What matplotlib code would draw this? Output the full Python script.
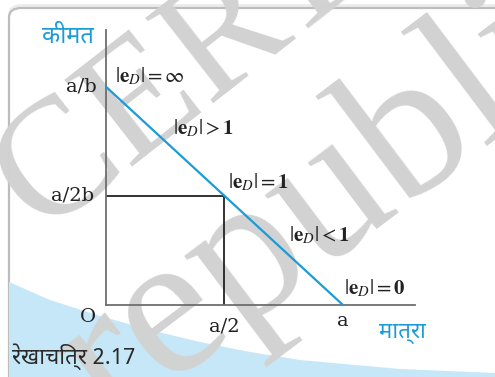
import numpy as np
import matplotlib.pyplot as plt
from matplotlib.patches import FancyBboxPatch, Polygon

# ========== 数据 ==========
a = 10.0          # 数量轴截距
b = 1.0           # 斜率参数
qty = [0, a]              # 需求曲线端点（数量）
price = [a / b, 0]        # 需求曲线端点（价格）
mid_q = a / 2
mid_p = a / (2 * b)
x_top, y_top = 13.04, 12.6

blue = '#1b9bd7'
txt = '#222222'
hindi = ['Noto Sans Devanagari', 'DejaVu Sans']
serif = ['DejaVu Serif']
wm_font = ['Liberation Serif', 'DejaVu Serif']

plt.rcParams['mathtext.fontset'] = 'stix'

W, H = 495, 377
def px(x, y):
    # 像素坐标 -> figure 坐标
    return x / W, 1 - y / H

fig = plt.figure(figsize=(4.95, 3.77), dpi=100)

# ========== 背景框 + 浅蓝色块 ==========
fig.patches.append(FancyBboxPatch(px(8, 400), 1.2, 396 / H,
                                  boxstyle='round,pad=0,rounding_size=0.03',
                                  transform=fig.transFigure, fc='#ececec',
                                  ec='none', zorder=-4))
fig.patches.append(FancyBboxPatch(px(9, 400), 1.2, 392 / H,
                                  boxstyle='round,pad=0,rounding_size=0.025',
                                  transform=fig.transFigure, fc='white',
                                  ec='#bdbdbd', lw=1.6, zorder=-3))
curve = [(9, 282), (50, 300), (100, 316), (150, 330), (200, 342), (250, 352),
         (300, 360), (400, 369), (495, 373), (495, 377), (9, 377)]
fig.patches.append(Polygon([px(*p) for p in curve], closed=True,
                           transform=fig.transFigure, fc='#c6e7f7', ec='none', zorder=-2))

# ========== 水印 ==========
fig.text(*px(40, 233), 'CERT', family=wm_font, fontsize=120, color='#d2d2d2',
         rotation=38, rotation_mode='anchor', ha='left', va='baseline', zorder=-1)
fig.text(*px(110, 427), 'republished', family=wm_font, fontsize=148, color='#d2d2d2',
         rotation=37, rotation_mode='anchor', ha='left', va='baseline', zorder=-1)

# ========== 坐标轴 ==========
ax = fig.add_axes([106 / W, 72 / H, 309 / W, 275 / H])
ax.set_xlim(0, x_top)
ax.set_ylim(0, y_top)
ax.patch.set_alpha(0)
for s in ['top', 'right']:
    ax.spines[s].set_visible(False)
for s in ['left', 'bottom']:
    ax.spines[s].set_color('#6e6e6e')
    ax.spines[s].set_linewidth(1.3)
ax.set_xticks([])
ax.set_yticks([])

ax.plot(qty, price, color=blue, lw=1.6, solid_capstyle='butt', zorder=3)
ax.plot([0, mid_q, mid_q], [mid_p, mid_p, 0], color=txt, lw=1.3, zorder=2)

kw = dict(family=serif, fontsize=14, color=txt)
ax.text(-0.38, price[0], 'a/b', ha='right', va='center', **kw)
ax.text(-0.5, mid_p, 'a/2b', ha='right', va='center', **kw)
ax.text(-0.75, -0.55, 'O', ha='center', va='center', **kw)
ax.text(mid_q, -1.0, 'a/2', ha='center', va='center', **kw)
ax.text(a, -0.75, 'a', ha='center', va='center', **kw)

mk = dict(fontsize=15, color=txt)
ax.text(0.38, 10.5, r'$|\mathbf{e}_{\mathit{D}}| = \infty$', ha='left', va='center', **mk)
ax.text(2.83, 8.11, r'$|\mathbf{e}_{\mathit{D}}| > \mathbf{1}$', ha='left', va='center', **mk)
ax.text(5.15, 5.64, r'$|\mathbf{e}_{\mathit{D}}| = \mathbf{1}$', ha='left', va='center', **mk)
ax.text(7.72, 3.21, r'$|\mathbf{e}_{\mathit{D}}| < \mathbf{1}$', ha='left', va='center', **mk)
ax.text(10.04, 0.78, r'$|\mathbf{e}_{\mathit{D}}| = \mathbf{0}$', ha='left', va='center', **mk)

# ========== 轴标题（印地语） ==========
fig.text(*px(68, 37), 'कीमत', family=hindi, ha='center', va='center', fontsize=17, color=blue)
fig.text(*px(402, 333), 'मात्रा', family=hindi, ha='center', va='center', fontsize=16, color=blue)
fig.text(*px(12, 357), 'रेखाचित्र 2.17', family=hindi, ha='left', va='center', fontsize=16,
         style='italic', color='#2a2a2a')

fig.savefig('out.png', dpi=100)
